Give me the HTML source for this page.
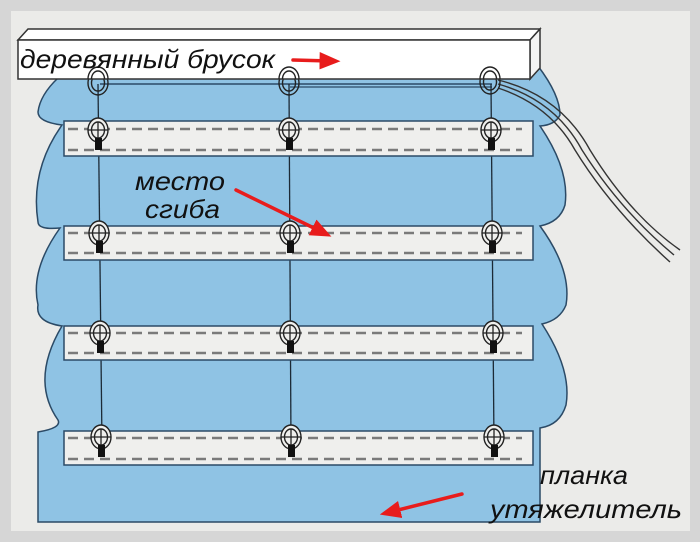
<!DOCTYPE html>
<html><head><meta charset="utf-8"><style>
html,body{margin:0;padding:0;background:#d9d9d9;}
svg{display:block}
text{font-family:"Liberation Sans",sans-serif;font-style:italic;fill:#111;}
</style></head><body>
<svg width="700" height="542" viewBox="0 0 700 542" xmlns="http://www.w3.org/2000/svg">
<rect x="0" y="0" width="700" height="542" fill="#d6d6d6"/>
<rect x="11" y="11" width="679" height="520" fill="#ebebe9"/>
<defs>
<marker id="ah" markerWidth="6" markerHeight="6" refX="3" refY="3" orient="auto" markerUnits="strokeWidth">
<path d="M0,0.5 L6,3 L0,5.5 z" fill="#e81c1c"/></marker>
</defs>
<path d="M58,78 L538,66 Q560,95 560,115 Q555,125 540,126
 Q570,170 565,205 Q560,222 540,226
 Q572,270 566,305 Q560,320 542,324
 Q572,370 566,405 Q560,425 540,428
 L540,522 L38,522 L38,432
 Q62,428 58,420 Q30,380 62,326
 Q35,322 38,305 Q30,270 60,228
 Q38,230 38,222 Q30,170 62,125
 Q38,122 38,112 Q40,95 58,78 Z" fill="#8fc3e4" stroke="#2b4a66" stroke-width="1.5"/>
<g fill="none" stroke="#333" stroke-width="1.4">
<path d="M498,80 Q560,95 590,150 Q630,215 680,250"/>
<path d="M498,84 Q555,100 582,150 Q620,210 674,255"/>
<path d="M498,88 Q550,105 575,150 Q612,210 670,262"/>
</g>
<line x1="100" y1="84" x2="492" y2="84" stroke="#2b4a66" stroke-width="1.5"/>
<line x1="290" y1="87" x2="492" y2="87" stroke="#2b4a66" stroke-width="1.2"/>
<g stroke="#1c2a36" stroke-width="1.3">
<line x1="98" y1="84" x2="102" y2="445"/>
<line x1="289" y1="84" x2="291" y2="445"/>
<line x1="491" y1="84" x2="494" y2="445"/>
</g>
<g stroke="#7a7a7a" stroke-width="2.6" stroke-dasharray="10,6">
<rect x="64" y="121" width="469" height="35" fill="#efefed" stroke="#2b4a66" stroke-width="1.5" stroke-dasharray="none"/>
<line x1="68" y1="129" x2="522" y2="129"/><line x1="68" y1="150" x2="522" y2="150"/>
<rect x="64" y="226" width="469" height="34" fill="#efefed" stroke="#2b4a66" stroke-width="1.5" stroke-dasharray="none"/>
<line x1="68" y1="233" x2="522" y2="233"/><line x1="68" y1="253" x2="522" y2="253"/>
<rect x="64" y="326" width="469" height="34" fill="#efefed" stroke="#2b4a66" stroke-width="1.5" stroke-dasharray="none"/>
<line x1="68" y1="333" x2="522" y2="333"/><line x1="68" y1="353" x2="522" y2="353"/>
<rect x="64" y="431" width="469" height="34" fill="#efefed" stroke="#2b4a66" stroke-width="1.5" stroke-dasharray="none"/>
<line x1="68" y1="438" x2="522" y2="438"/><line x1="68" y1="459" x2="522" y2="459"/>
</g>
<g stroke="#222" stroke-width="1.4" fill="none">
<ellipse cx="98" cy="83" rx="10" ry="12"/><ellipse cx="98" cy="83" rx="6.5" ry="8"/>
<ellipse cx="289" cy="83" rx="10" ry="12"/><ellipse cx="289" cy="83" rx="6.5" ry="8"/>
<ellipse cx="490" cy="82" rx="10" ry="12"/><ellipse cx="490" cy="82" rx="6.5" ry="8"/>
</g>
<g stroke="#222" stroke-width="1.4" fill="#efefed">
<ellipse cx="98" cy="130" rx="10" ry="12"/><ellipse cx="98" cy="130" rx="6.5" ry="8"/>
<ellipse cx="289" cy="130" rx="10" ry="12"/><ellipse cx="289" cy="130" rx="6.5" ry="8"/>
<ellipse cx="491" cy="130" rx="10" ry="12"/><ellipse cx="491" cy="130" rx="6.5" ry="8"/>
<ellipse cx="99" cy="233" rx="10" ry="12"/><ellipse cx="99" cy="233" rx="6.5" ry="8"/>
<ellipse cx="290" cy="233" rx="10" ry="12"/><ellipse cx="290" cy="233" rx="6.5" ry="8"/>
<ellipse cx="492" cy="233" rx="10" ry="12"/><ellipse cx="492" cy="233" rx="6.5" ry="8"/>
<ellipse cx="100" cy="333" rx="10" ry="12"/><ellipse cx="100" cy="333" rx="6.5" ry="8"/>
<ellipse cx="290" cy="333" rx="10" ry="12"/><ellipse cx="290" cy="333" rx="6.5" ry="8"/>
<ellipse cx="493" cy="333" rx="10" ry="12"/><ellipse cx="493" cy="333" rx="6.5" ry="8"/>
<ellipse cx="101" cy="437" rx="10" ry="12"/><ellipse cx="101" cy="437" rx="6.5" ry="8"/>
<ellipse cx="291" cy="437" rx="10" ry="12"/><ellipse cx="291" cy="437" rx="6.5" ry="8"/>
<ellipse cx="494" cy="437" rx="10" ry="12"/><ellipse cx="494" cy="437" rx="6.5" ry="8"/>
</g>
<g stroke="#222" stroke-width="1.3">
<line x1="88" y1="130" x2="108" y2="130"/><line x1="279" y1="130" x2="299" y2="130"/><line x1="481" y1="130" x2="501" y2="130"/>
<line x1="89" y1="233" x2="109" y2="233"/><line x1="280" y1="233" x2="300" y2="233"/><line x1="482" y1="233" x2="502" y2="233"/>
<line x1="90" y1="333" x2="110" y2="333"/><line x1="280" y1="333" x2="300" y2="333"/><line x1="483" y1="333" x2="503" y2="333"/>
<line x1="91" y1="437" x2="111" y2="437"/><line x1="281" y1="437" x2="301" y2="437"/><line x1="484" y1="437" x2="504" y2="437"/>
<line x1="98" y1="122" x2="98" y2="150"/><line x1="289" y1="122" x2="289" y2="150"/><line x1="491" y1="122" x2="491" y2="150"/>
<line x1="99" y1="225" x2="99" y2="253"/><line x1="290" y1="225" x2="290" y2="253"/><line x1="492" y1="225" x2="492" y2="253"/>
<line x1="100" y1="325" x2="100" y2="353"/><line x1="290" y1="325" x2="290" y2="353"/><line x1="493" y1="325" x2="493" y2="353"/>
<line x1="101" y1="429" x2="101" y2="457"/><line x1="291" y1="429" x2="291" y2="457"/><line x1="494" y1="429" x2="494" y2="457"/>
</g>
<g fill="#111">
<rect x="95" y="138" width="7" height="12"/><rect x="286" y="138" width="7" height="12"/><rect x="488" y="138" width="7" height="12"/>
<rect x="96" y="241" width="7" height="12"/><rect x="287" y="241" width="7" height="12"/><rect x="489" y="241" width="7" height="12"/>
<rect x="97" y="341" width="7" height="12"/><rect x="287" y="341" width="7" height="12"/><rect x="490" y="341" width="7" height="12"/>
<rect x="98" y="445" width="7" height="12"/><rect x="288" y="445" width="7" height="12"/><rect x="491" y="445" width="7" height="12"/>
</g>
<path d="M18,40 L28,29 L540,29 L530,40 Z" fill="#fff" stroke="#333" stroke-width="1.5"/>
<path d="M530,40 L540,29 L540,68 L530,79 Z" fill="#f4f4f4" stroke="#333" stroke-width="1.5"/>
<rect x="18" y="40" width="512" height="39" fill="#fff" stroke="#333" stroke-width="1.5"/>
<g stroke="#222" stroke-width="1.4" fill="none">
<path d="M88,79 A10,12 0 0 1 108,79"/><path d="M279,79 A10,12 0 0 1 299,79"/><path d="M480,79 A10,12 0 0 1 500,79"/>
<path d="M91.5,79 A6.5,8 0 0 1 104.5,79"/><path d="M282.5,79 A6.5,8 0 0 1 295.5,79"/><path d="M483.5,79 A6.5,8 0 0 1 496.5,79"/>
</g>
<text x="20" y="68" font-size="26" textLength="255" lengthAdjust="spacingAndGlyphs">деревянный брусок</text>
<text x="135" y="190" font-size="26" textLength="90" lengthAdjust="spacingAndGlyphs">место</text>
<text x="145" y="218" font-size="26" textLength="75" lengthAdjust="spacingAndGlyphs">сгиба</text>
<text x="540" y="484" font-size="26" textLength="88" lengthAdjust="spacingAndGlyphs">планка</text>
<text x="490" y="518" font-size="26" textLength="192" lengthAdjust="spacingAndGlyphs">утяжелитель</text>
<g stroke="#e81c1c" stroke-width="3.5" fill="none" stroke-linecap="round">
<line x1="293" y1="60" x2="330" y2="61" marker-end="url(#ah)"/>
<line x1="236" y1="190" x2="322" y2="232" marker-end="url(#ah)"/>
<line x1="462" y1="494" x2="390" y2="512" marker-end="url(#ah)"/>
</g>
</svg>
</body></html>
